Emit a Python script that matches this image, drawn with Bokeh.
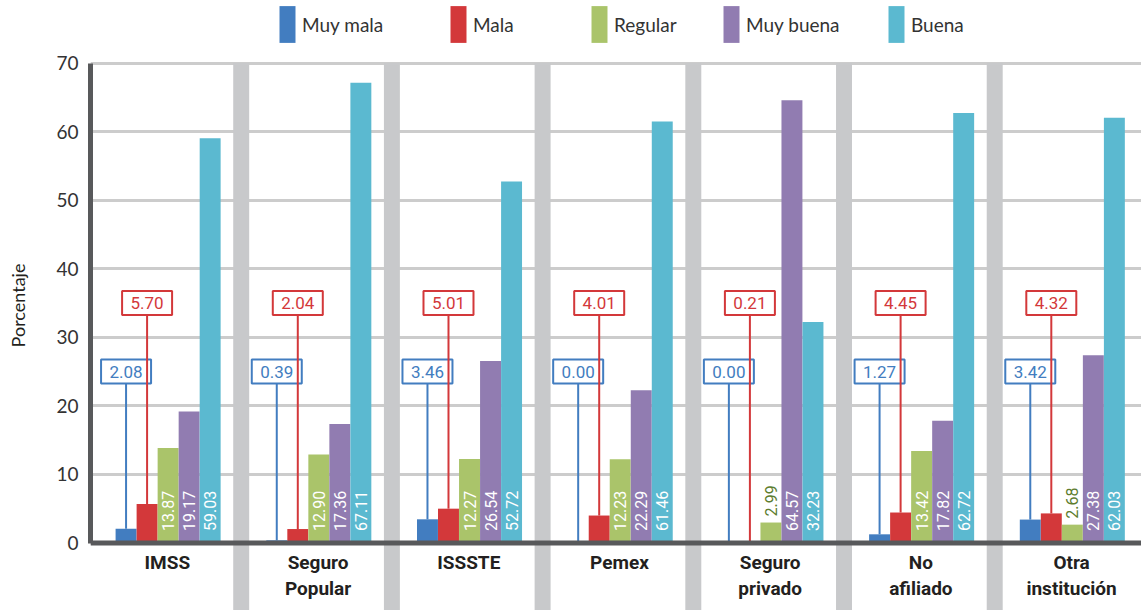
import numpy as np
from bokeh.plotting import figure
from bokeh.models import Range1d, FixedTicker, Span, Legend, LegendItem, ColumnDataSource
from bokeh.core.properties import value
from bokeh.embed import file_html
from bokeh.resources import INLINE

# ---------------- data ----------------
categories = ["IMSS", "Seguro\nPopular", "ISSSTE", "Pemex", "Seguro\nprivado", "No\nafiliado", "Otra\ninstitución"]
series_names = ["Muy mala", "Mala", "Regular", "Muy buena", "Buena"]
muy_mala = [2.08, 0.39, 3.46, 0.00, 0.00, 1.27, 3.42]
mala = [5.70, 2.04, 5.01, 4.01, 0.21, 4.45, 4.32]
regular = [13.87, 12.90, 12.27, 12.23, 2.99, 13.42, 2.68]
muy_buena = [19.17, 17.36, 26.54, 22.29, 64.57, 17.82, 27.38]
buena = [59.03, 67.11, 52.72, 61.46, 32.23, 62.72, 62.03]
y_ticks = [0, 10, 20, 30, 40, 50, 60, 70]
y_label = "Porcentaje"

# ---------------- style / layout ----------------
series_values = [muy_mala, mala, regular, muy_buena, buena]
colors = ["#427dc0", "#d3383a", "#aac46a", "#917cb1", "#5bb9d0"]
outside_color = "#5d7d2e"
sep_color = "#c8c9cb"
axis_color = "#58595b"
grid_color = "#cccccc"
FONT = "Lato"
NUM_FONT = "Roboto"

W, H = 1141, 610
LEFT = 90
n = len(categories)
idx = np.arange(n)
center = 0.515
step = 0.1395
bar_w = 0.139
offsets = [(k - 2) * step for k in range(5)]
callout_levels = {0: 25, 1: 35}  # y of boxed labels for series 0 and 1
Y0, Y1 = -9.84, 79.12

p = figure(width=W, height=H,
           x_range=Range1d(0, 6.974), y_range=Range1d(Y0, Y1),
           output_backend="svg", toolbar_location=None,
           x_axis_type=None,
           min_border_left=LEFT, min_border_right=0, min_border_top=0, min_border_bottom=0)
p.outline_line_color = None
p.background_fill_color = "white"

# y axis
yax = p.yaxis[0]
yax.ticker = FixedTicker(ticks=y_ticks)
yax.bounds = (0, 70)
yax.axis_line_color = axis_color
yax.axis_line_width = 5
yax.major_tick_line_color = None
yax.minor_tick_line_color = None
yax.major_tick_in = 0
yax.major_tick_out = 0
yax.major_label_standoff = 12
yax.major_label_text_font = FONT
yax.major_label_text_font_size = "19px"
yax.major_label_text_color = "#333333"
yax.axis_label = y_label
yax.axis_label_text_font = FONT
yax.axis_label_text_font_size = "18px"
yax.axis_label_text_font_style = "normal"
yax.axis_label_text_color = "#231f20"
yax.axis_label_standoff = 24

p.ygrid.grid_line_color = grid_color
p.ygrid.grid_line_width = 3
p.ygrid.ticker = FixedTicker(ticks=y_ticks)

# separators between groups
sep_x = idx[1:].astype(float)
p.vbar(x=sep_x, top=70, bottom=Y0, width=0.106, fill_color=sep_color, line_color=None)

# bars
renderers = []
for k, vals in enumerate(series_values):
    xs = idx + center + offsets[k]
    r = p.vbar(x=xs, top=vals, bottom=0, width=bar_w, fill_color=colors[k], line_color=None)
    renderers.append(r)

# bottom axis line
p.add_layout(Span(location=0, dimension="width", line_color=axis_color, line_width=5))

# vertical value labels for series 2..4
for k in (2, 3, 4):
    vals = series_values[k]
    xs = idx + center + offsets[k]
    ins = [v >= 6 for v in vals]
    src_in = ColumnDataSource(dict(x=[x for x, f in zip(xs, ins) if f],
                                   y=[0 for f in ins if f],
                                   t=["%.2f" % v for v, f in zip(vals, ins) if f]))
    src_out = ColumnDataSource(dict(x=[x for x, f in zip(xs, ins) if not f],
                                    y=[v for v, f in zip(vals, ins) if not f],
                                    t=["%.2f" % v for v, f in zip(vals, ins) if not f]))
    p.text(x="x", y="y", text="t", source=src_in, angle=np.pi / 2, text_align="left",
           text_baseline="middle", y_offset=-12, text_color="white",
           text_font=value(NUM_FONT), text_font_size="16px")
    p.text(x="x", y="y", text="t", source=src_out, angle=np.pi / 2, text_align="left",
           text_baseline="middle", y_offset=-6, text_color=outside_color,
           text_font=value(NUM_FONT), text_font_size="16px")

# callouts for series 0 and 1
for k, lvl in callout_levels.items():
    vals = series_values[k]
    xs = idx + center + offsets[k]
    p.segment(x0=xs, y0=vals, x1=xs, y1=[lvl] * n, line_color=colors[k], line_width=2)
    p.rect(x=xs, y=[lvl] * n, width=50, height=24, width_units="screen", height_units="screen",
           fill_color="white", line_color=colors[k], line_width=2)
    p.text(x=xs, y=[lvl] * n, text=["%.2f" % v for v in vals], text_align="center",
           text_baseline="middle", text_color=colors[k], text_font=value(NUM_FONT),
           text_font_size="17px")

# category labels
p.text(x=idx + 0.51, y=[0] * n, text=categories, text_align="center", text_baseline="top",
       y_offset=8, text_color="#231f20", text_font=value("Roboto"), text_font_style="bold",
       text_font_size="19px", text_line_height=1.12)

# legend items (positioned individually)
leg_x = [187, 358, 499, 631, 796]
for k, name in enumerate(series_names):
    leg = Legend(items=[LegendItem(label=name, renderers=[renderers[k]])],
                 location=(leg_x[k], 563), orientation="horizontal",
                 glyph_width=20, glyph_height=46, label_standoff=5,
                 padding=0, margin=0, border_line_color=None, background_fill_alpha=0,
                 label_text_font=FONT, label_text_font_size="19px",
                 label_text_color="#333333", label_text_baseline="middle")
    p.add_layout(leg)

open("out.html", "w").write(file_html(p, INLINE))
